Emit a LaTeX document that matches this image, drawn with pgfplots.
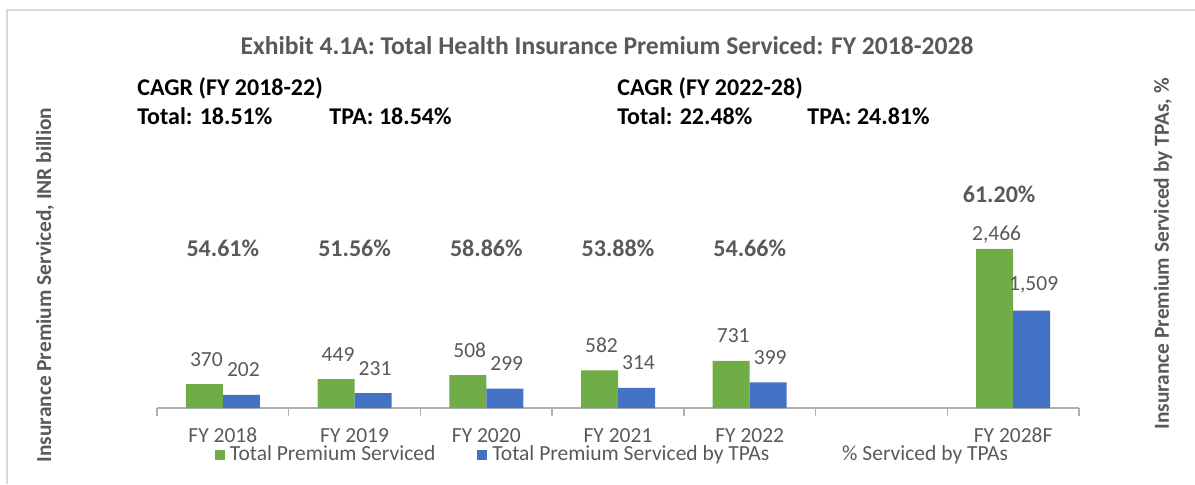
\documentclass[border=0pt]{standalone}
\usepackage{fontspec}
\setmainfont{Carlito}
\usepackage{pgfplots}
\usepackage{pgfplotstable}
\pgfplotsset{compat=1.18}
\definecolor{cgreen}{HTML}{70AD47}
\definecolor{cblue}{HTML}{4472C4}
\definecolor{tgrey}{HTML}{595959}
\definecolor{agrey}{HTML}{B0B0B0}
\definecolor{fgrey}{HTML}{D9D9D9}
\pgfplotstableread{
x total tpa
0 370 202
1 449 231
2 508 299
3 582 314
4 731 399
6 2466 1509
}\premium
\pgfplotstableread{
x pos lab
0 2481 54.61
1 2481 51.56
2 2481 58.86
3 2481 53.88
4 2481 54.66
6 3318 61.20
}\pctdata
\begin{document}
\begin{tikzpicture}
\useasboundingbox (0,0) rectangle (597.5pt,242pt);
\draw[fgrey, line width=0.75pt] (3.5pt,0pt) -- (3.5pt,237pt) -- (597.5pt,237pt);
\begin{axis}[
  at={(78.5pt,38pt)}, anchor=south west,
  scale only axis, width=461pt, height=129pt,
  xmin=-0.5, xmax=6.5, ymin=0, ymax=4000,
  axis x line*=bottom, axis y line=none,
  axis line style={agrey, line width=0.75pt},
  xtick={0,1,2,3,4,6},
  xticklabels={FY 2018,FY 2019,FY 2020,FY 2021,FY 2022,FY 2028F},
  major tick length=0pt,
  minor xtick={-0.5,0.5,...,6.5},
  minor tick length=4pt,
  tick align=outside,
  minor tick style={agrey, line width=0.75pt},
  xticklabel style={font=\fontsize{10.75pt}{12pt}\selectfont, text=tgrey, yshift=-6.5pt},
  /pgf/number format/assume math mode=true,
  /pgf/number format/1000 sep={,},
  ybar=0pt, bar width=18.5pt,
  nodes near coords,
  every node near coord/.append style={font=\fontsize{10.75pt}{12pt}\selectfont, text=tgrey, anchor=south, inner sep=0pt, yshift=8.75pt, xshift=1pt},
  legend columns=3,
  legend style={at={(0.494,-0.182)}, anchor=center, draw=none, fill=none,
    font=\fontsize{10.75pt}{12pt}\selectfont, text=tgrey,
    nodes={inner sep=1pt},
    /tikz/every odd column/.append style={column sep=1.5pt},
    /tikz/every even column/.append style={column sep=20pt}},
  clip=false,
]
\addplot[fill=cgreen, draw=none,
  legend image code/.code={\fill[cgreen] (0pt,-2.5pt) rectangle (5pt,2.5pt);},
  coordinate style/.condition={x>5.5}{yshift=-6.25pt}]
  table[x=x, y=total] {\premium};
\addlegendentry{Total Premium Serviced}
\addplot[fill=cblue, draw=none,
  legend image code/.code={\fill[cblue] (0pt,-2.5pt) rectangle (5pt,2.5pt);}]
  table[x=x, y=tpa] {\premium};
\addlegendentry{Total Premium Serviced by TPAs}
\addlegendimage{empty legend}
\addlegendentry{\hspace*{13pt}\% Serviced by TPAs}
\end{axis}
\begin{axis}[
  at={(78.5pt,38pt)}, anchor=south west,
  scale only axis, width=461pt, height=129pt,
  xmin=-0.5, xmax=6.5, ymin=0, ymax=4000,
  hide axis, clip=false,
]
\addplot[draw=none, mark=none, nodes near coords={\pgfplotspointmeta\%},
  point meta=explicit symbolic,
  every node near coord/.append style={font=\bfseries\fontsize{12pt}{14pt}\selectfont, text=tgrey, anchor=center, inner sep=0pt},
  coordinate style/.condition={x>5.5}{xshift=-7pt}]
  table[x=x, y=pos, meta=lab] {\pctdata};
\end{axis}
\node[font=\bfseries\fontsize{12.8pt}{15pt}\selectfont, text=tgrey] at (303.5pt,219pt) {Exhibit 4.1A: Total Health Insurance Premium Serviced: FY 2018-2028};
\begin{scope}[every node/.style={font=\bfseries\fontsize{12pt}{14pt}\selectfont, text=black, anchor=west, inner sep=0pt}]
\node at (68.5pt,198pt) {CAGR (FY 2018-22)};
\node at (68.5pt,184pt) {Total: 18.51\%};
\node at (164.5pt,184pt) {TPA: 18.54\%};
\node at (308.5pt,198pt) {CAGR (FY 2022-28)};
\node at (308.5pt,184pt) {Total: 22.48\%};
\node at (403.5pt,184pt) {TPA: 24.81\%};
\end{scope}
\node[font=\bfseries\fontsize{10.7pt}{12pt}\selectfont, text=tgrey, rotate=90] at (22.5pt,99.5pt) {Insurance Premium Serviced, INR billion};
\node[font=\bfseries\fontsize{10.7pt}{12pt}\selectfont, text=tgrey, rotate=90] at (581.5pt,115pt) {Insurance Premium Serviced by TPAs, \%};
\end{tikzpicture}
\end{document}
